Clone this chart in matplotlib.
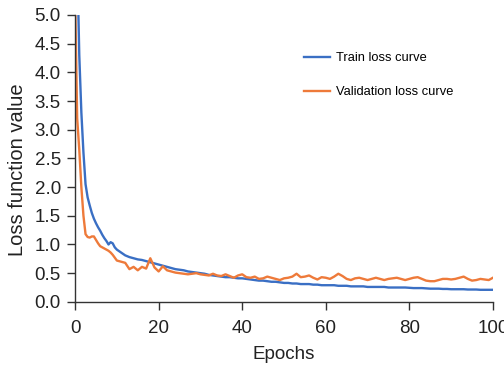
import matplotlib
matplotlib.use("Agg")
import matplotlib.pyplot as plt

plt.rcParams['font.family'] = ['Liberation Sans', 'DejaVu Sans']

epochs = [0, 0.5, 1, 1.5, 2, 2.5, 3, 3.5, 4, 4.5, 5, 5.5, 6, 6.5, 7, 7.5,
          8, 8.5, 9, 9.5] + list(range(10, 101))

train_loss = [
    9.00, 6.00, 4.30, 3.30, 2.60, 2.05, 1.82, 1.68, 1.55, 1.45,
    1.37, 1.30, 1.24, 1.17, 1.11, 1.06, 1.00, 1.04, 1.02, 0.95,
    0.91, 0.86, 0.81, 0.78, 0.76, 0.74, 0.73, 0.71, 0.69, 0.67,
    0.65, 0.63, 0.61, 0.59, 0.57, 0.56, 0.55, 0.53, 0.52, 0.51,
    0.50, 0.49, 0.47, 0.46, 0.45, 0.44, 0.43, 0.43, 0.42, 0.41,
    0.41, 0.40, 0.39, 0.38, 0.37, 0.37, 0.36, 0.35, 0.35, 0.34,
    0.33, 0.33, 0.32, 0.32, 0.31, 0.31, 0.31, 0.30, 0.30, 0.29,
    0.29, 0.29, 0.29, 0.28, 0.28, 0.28, 0.27, 0.27, 0.27, 0.27,
    0.26, 0.26, 0.26, 0.26, 0.26, 0.25, 0.25, 0.25, 0.25, 0.25,
    0.245, 0.24, 0.24, 0.24, 0.235, 0.23, 0.23, 0.23, 0.225, 0.225,
    0.22, 0.22, 0.22, 0.22, 0.215, 0.215, 0.215, 0.21, 0.21, 0.21,
    0.21,
]

val_loss = [
    5.30, 3.20, 2.65, 2.00, 1.50, 1.18, 1.13, 1.12, 1.14, 1.14,
    1.08, 1.02, 0.97, 0.95, 0.93, 0.91, 0.89, 0.86, 0.82, 0.77,
    0.72, 0.70, 0.68, 0.57, 0.61, 0.55, 0.61, 0.58, 0.76, 0.60,
    0.53, 0.62, 0.55, 0.53, 0.51, 0.50, 0.49, 0.48, 0.49, 0.50,
    0.48, 0.47, 0.46, 0.49, 0.46, 0.45, 0.48, 0.45, 0.42, 0.46,
    0.48, 0.43, 0.42, 0.44, 0.40, 0.41, 0.44, 0.42, 0.40, 0.38,
    0.41, 0.42, 0.44, 0.49, 0.43, 0.44, 0.46, 0.42, 0.39, 0.43,
    0.42, 0.40, 0.44, 0.49, 0.45, 0.40, 0.38, 0.41, 0.42, 0.40,
    0.38, 0.40, 0.42, 0.40, 0.38, 0.40, 0.41, 0.42, 0.40, 0.38,
    0.40, 0.42, 0.43, 0.40, 0.37, 0.36, 0.36, 0.38, 0.40, 0.40,
    0.39, 0.40, 0.42, 0.44, 0.40, 0.37, 0.38, 0.40, 0.39, 0.38,
    0.42,
]

x_ticks = [0, 20, 40, 60, 80, 100]
y_ticks = [0.0, 0.5, 1.0, 1.5, 2.0, 2.5, 3.0, 3.5, 4.0, 4.5, 5.0]

fig = plt.figure(figsize=(5.04, 3.65), dpi=100)
ax = fig.add_axes([0.149, 0.173, 0.829, 0.786])

ax.plot(epochs, train_loss, color='#3a6fc4', lw=1.7, label='Train loss curve')
ax.plot(epochs, val_loss, color='#ee7a3a', lw=1.7, label='Validation loss curve')

ax.set_xlim(0, 100)
ax.set_ylim(0, 5.0)
ax.set_xticks(x_ticks)
ax.set_yticks(y_ticks)
ax.set_yticklabels([f"{v:.1f}" for v in y_ticks])

for s in ['top', 'right']:
    ax.spines[s].set_visible(False)
for s in ['left', 'bottom']:
    ax.spines[s].set_color('#333333')
    ax.spines[s].set_linewidth(1.0)
ax.tick_params(axis='both', direction='out', length=5.8, width=1.0,
               color='#333333', labelsize=13.5, labelcolor='#222222')
ax.tick_params(axis='x', pad=7.5)
ax.tick_params(axis='y', pad=4.5)

ax.set_xlabel('Epochs', fontsize=13.5, color='#222222', labelpad=6)
ax.set_ylabel('Loss function value', fontsize=14.5, color='#222222')
ax.yaxis.set_label_coords(-0.115, 0.46)

leg = ax.legend(loc='upper left', bbox_to_anchor=(0.52, 0.91), frameon=False,
                fontsize=9.3, handlelength=2.0, handletextpad=0.45,
                labelspacing=1.7)
for line in leg.get_lines():
    line.set_linewidth(1.7)

fig.savefig('out.png', dpi=100)
